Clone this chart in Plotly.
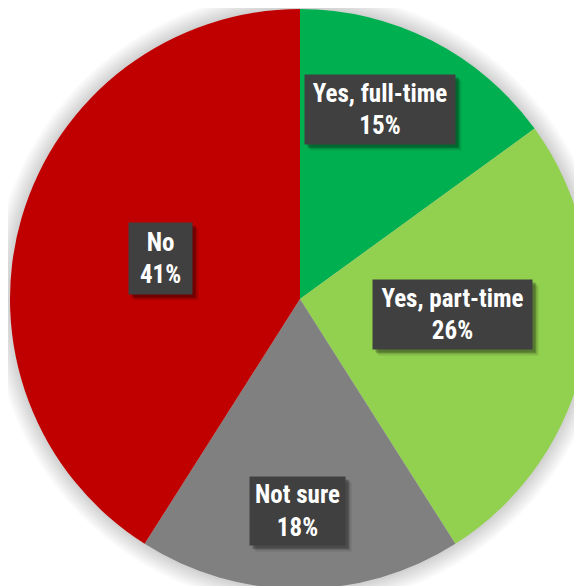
import plotly.graph_objects as go

labels = ["Yes, full-time", "Yes, part-time", "Not sure", "No"]
values = [15, 26, 18, 41]
colors = ["#00B050", "#92D050", "#808080", "#C00000"]
# label box centres (page pixels) and box sizes
label_pos = [(380, 109.5), (452.5, 314.5), (297.5, 511), (160.5, 258.5)]
box_size = [(150, 69), (159, 69), (95, 68), (63, 71)]

PAGE_OFF = 8  # default body margin of the page
W, H = 600, 600
ML, MR, MT, MB = 2, 18, 1, 19
PW, PH = W - ML - MR, H - MT - MB

fig = go.Figure(go.Pie(
    labels=labels, values=values, sort=False, direction="clockwise", rotation=0,
    marker=dict(colors=colors, line=dict(width=0)),
    textinfo="none", hoverinfo="label+percent", showlegend=False,
))

# soft glow shadow behind the pie
shapes = []
for k in range(1, 10):
    g = 2.0 * k / PW
    shapes.append(dict(type="circle", xref="paper", yref="paper", layer="below",
                       x0=-g, x1=1 + g, y0=-g, y1=1 + g,
                       line=dict(width=0), fillcolor="rgba(0,0,0,0.02)"))

total = sum(values)
anns = []
for lab, v, (px, py), (bw, bh) in zip(labels, values, label_pos, box_size):
    txt = f"<b>{lab}</b><br><b>{round(100 * v / total)}%</b>"
    x = (px - PAGE_OFF - ML) / PW
    y = 1 - (py - PAGE_OFF - MT) / PH
    common = dict(x=x, y=y, xref="paper", yref="paper", xanchor="center", yanchor="middle",
                  showarrow=False, width=bw, height=bh, borderpad=0)
    for off, a in [(6, 0.10), (4, 0.18), (3, 0.2)]:
        anns.append(dict(common, text=" ", bgcolor=f"rgba(0,0,0,{a})", xshift=off, yshift=-off))
    anns.append(dict(common, text=txt, bgcolor="#404040",
                     font=dict(family="Roboto Condensed, sans-serif", size=25, color="white")))

fig.update_layout(
    width=W, height=H, autosize=False,
    margin=dict(l=ML, r=MR, t=MT, b=MB),
    paper_bgcolor="white", plot_bgcolor="white",
    shapes=shapes, annotations=anns,
)
fig.write_html("out.html")
